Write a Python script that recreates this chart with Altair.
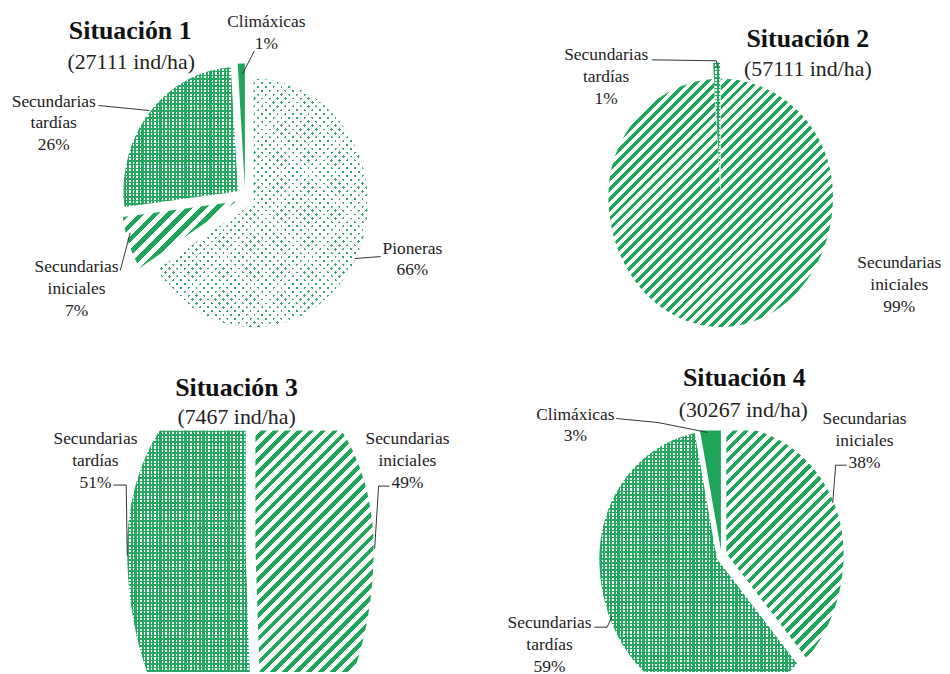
import math
import numpy as np
import pandas as pd
import altair as alt

# ---------------- data ----------------
categorias = ["Pioneras", "Secundarias iniciales", "Secundarias tardías", "Climáxicas"]
situaciones = ["Situación 1", "Situación 2", "Situación 3", "Situación 4"]
densidades = ["(27111 ind/ha)", "(57111 ind/ha)", "(7467 ind/ha)", "(30267 ind/ha)"]
pct_sit1 = [66, 7, 26, 1]
pct_sit2 = [0, 99, 1, 0]
pct_sit3 = [0, 49, 51, 0]
pct_sit4 = [0, 38, 59, 3]
porcentajes = [pct_sit1, pct_sit2, pct_sit3, pct_sit4]

# ---------------- layout (page pixels) ----------------
LAYOUT = [
    dict(panel=(8, 8, 480, 431), center=(246.7, 197.0), rx=115, ryt=125, ryb=125, explode=0.083, stripe=14,
         title=(131, 29), sub=(132, 60),
         labels={"Pioneras": (415, 248), "Secundarias iniciales": (77, 267),
                 "Secundarias tardías": (54, 100), "Climáxicas": (268, 20)},
         leaders={"Pioneras": [(383, 256), (357, 258)],
                  "Secundarias iniciales": [(121, 270), (131, 232)],
                  "Secundarias tardías": [(99, 104), (150, 109)],
                  "Climáxicas": [(256, 49), (244, 72)]}),
    dict(panel=(480, 8, 942, 431), center=(725.0, 187.0), rx=113, ryt=118, ryb=131, explode=0.068, stripe=10,
         title=(813, 37), sub=(813, 67),
         labels={"Secundarias iniciales": (905, 263), "Secundarias tardías": (610, 53)},
         leaders={"Secundarias tardías": [(656, 58), (721, 59), (722, 66)]}),
    dict(panel=(8, 431, 480, 674), center=(252.0, 550.0), rx=119, ryt=173, ryb=223, explode=0.042, stripe=12,
         title=(238, 388), sub=(238, 418),
         labels={"Secundarias iniciales": (410, 440), "Secundarias tardías": (96, 440)},
         leaders={"Secundarias iniciales": [(392, 487), (381, 487), (377, 550)],
                  "Secundarias tardías": [(114, 486), (127, 486), (128, 557)]}),
    dict(panel=(480, 431, 942, 674), center=(726.0, 557.0), rx=118, ryt=128, ryb=145, explode=0.045, stripe=11,
         title=(749, 378), sub=(748, 410),
         labels={"Secundarias iniciales": (870, 420), "Secundarias tardías": (553, 625),
                 "Climáxicas": (579, 415)},
         leaders={"Secundarias iniciales": [(852, 466), (841, 466), (838, 504)],
                  "Secundarias tardías": [(598, 629), (611, 629), (616, 618)],
                  "Climáxicas": [(620, 419), (662, 423), (712, 433)]}),
]

GREEN = "#1fa65a"
GREEN_X = "#26a862"
DOT = "#35a56c"
WHITE = "#ffffff"
CLEAR = "rgba(255,255,255,0)"
SERIF = "Liberation Serif, Times New Roman, serif"
LINE_H = 22


# ---------------- geometry helpers ----------------
def sector_polygon(a0, a1, e, kb):
    m = 0.5 * (a0 + a1)
    ax, ay = e * math.sin(m), e * math.cos(m)
    n = max(2, int(math.ceil((a1 - a0) / math.radians(2))))
    t = np.linspace(a0, a1, n + 1)
    xs = np.concatenate([[ax], ax + np.sin(t)])
    ys = np.concatenate([[ay], ay + np.cos(t)])
    ys = np.where(ys < 0, ys * kb, ys)
    return xs, ys


def vertical_extents(xs, ys):
    x1, y1 = xs, ys
    x2, y2 = np.roll(xs, -1), np.roll(ys, -1)
    eps = 1e-6
    q = np.unique(np.concatenate([xs - eps, xs + eps]))
    Q = q[:, None]
    inside = ((x1[None, :] <= Q) & (Q < x2[None, :])) | ((x2[None, :] <= Q) & (Q < x1[None, :]))
    dx = np.where(x2 - x1 == 0, 1.0, x2 - x1)
    yy = y1[None, :] + (Q - x1[None, :]) * ((y2 - y1) / dx)[None, :]
    lo = np.where(inside, yy, np.inf).min(axis=1)
    hi = np.where(inside, yy, -np.inf).max(axis=1)
    ok = np.isfinite(lo) & np.isfinite(hi)
    return q[ok], lo[ok], hi[ok]


def stripes(kind, w, h, period, frac, on, off):
    if kind in ("diag", "anti"):
        k = (w + h) / (w * w + h * h)
        if kind == "diag":
            x1, y1, x2, y2 = 0.0, 0.0, k * w, k * h
        else:
            x1, y1, x2, y2 = 0.0, 1.0, k * w, 1.0 - k * h
        length = (w + h) / math.sqrt(2)
    elif kind == "v":
        x1, y1, x2, y2 = 0.0, 0.0, 1.0, 0.0
        length = w
    else:
        x1, y1, x2, y2 = 0.0, 0.0, 0.0, 1.0
        length = h
    n = max(length / period, 1.0)
    stops = []
    i = 0
    while i / n < 1:
        a = i / n
        b = min((i + frac) / n, 1.0)
        c = min((i + 1) / n, 1.0)
        stops += [(a, on), (b, on), (b, off), (c, off)]
        i += 1
    return alt.LinearGradient(
        gradient="linear",
        stops=[alt.GradientStop(offset=round(o, 5), color=col) for o, col in stops],
        x1=round(x1, 5), y1=round(y1, 5), x2=round(x2, 5), y2=round(y2, 5),
    )


def fills_for(cat, w, h, stripe):
    if cat == "Pioneras":
        return [stripes("diag", w, h, 5.5, 0.34, DOT, WHITE),
                stripes("anti", w, h, 5.5, 0.34, CLEAR, WHITE)]
    if cat == "Secundarias iniciales":
        return [stripes("diag", w, h, stripe / math.sqrt(2), 0.48, GREEN, WHITE)]
    if cat == "Secundarias tardías":
        return [stripes("v", w, h, 3.6, 0.6, GREEN_X, WHITE),
                stripes("h", w, h, 3.6, 0.4, GREEN_X, CLEAR)]
    return [GREEN]


# ---------------- build outline table ----------------
rows = []
slice_info = []  # (pie, sid, cat, bbox w, bbox h)
for p, (vals, L) in enumerate(zip(porcentajes, LAYOUT)):
    total = float(sum(vals))
    kb = L["ryb"] / L["ryt"]
    start = 0.0
    for sid, (cat, val) in enumerate(zip(categorias, vals)):
        if val <= 0:
            continue
        a0 = start / total * 2 * math.pi
        a1 = (start + val) / total * 2 * math.pi
        start += val
        xs, ys = sector_polygon(a0, a1, L["explode"], kb)
        q, lo, hi = vertical_extents(xs, ys)
        for u, l, hgh in zip(q, lo, hi):
            rows.append(dict(pie=p, sid=sid, u=float(u), lo=float(l), hi=float(hgh)))
        w = (xs.max() - xs.min()) * L["rx"]
        h = (ys.max() - ys.min()) * L["ryt"]
        slice_info.append((p, sid, cat, w, h))
outline = pd.DataFrame(rows).sort_values(["pie", "sid", "u"])


def to_unit(L, px, py):
    cx, cy = L["center"]
    return (px - cx) / L["rx"], (cy - py) / L["ryt"]


text_rows, leader_rows = [], []
for p, (vals, L) in enumerate(zip(porcentajes, LAYOUT)):
    u, v = to_unit(L, *L["title"])
    text_rows.append(dict(pie=p, kind="title", text=situaciones[p], u=u, v=v))
    u, v = to_unit(L, *L["sub"])
    text_rows.append(dict(pie=p, kind="sub", text=densidades[p], u=u, v=v))
    for cat, val in zip(categorias, vals):
        if val <= 0:
            continue
        lines = cat.split(" ") + [f"{val}%"]
        x0, y0 = L["labels"][cat]
        for k, line in enumerate(lines):
            u, v = to_unit(L, x0, y0 + k * LINE_H)
            text_rows.append(dict(pie=p, kind="label", text=line, u=u, v=v))
        for k, (lx, ly) in enumerate(L["leaders"].get(cat, [])):
            u, v = to_unit(L, lx, ly)
            leader_rows.append(dict(pie=p, lid=cat, k=k, u=u, v=v))
texts = pd.DataFrame(text_rows)
leaders = pd.DataFrame(leader_rows)


# ---------------- panels ----------------
def panel(p):
    L = LAYOUT[p]
    X0, Y0, X1, Y1 = L["panel"]
    cx, cy = L["center"]
    xsc = alt.Scale(domain=[(X0 - cx) / L["rx"], (X1 - cx) / L["rx"]], nice=False, zero=False)
    ysc = alt.Scale(domain=[(cy - Y1) / L["ryt"], (cy - Y0) / L["ryt"]], nice=False, zero=False)
    X = alt.X("u:Q", scale=xsc, axis=None)
    layers = []
    for (pp, sid, cat, w, h) in slice_info:
        if pp != p:
            continue
        for f in fills_for(cat, w, h, L["stripe"]):
            layers.append(
                alt.Chart(outline)
                .transform_filter(f"datum.pie == {p} && datum.sid == {sid}")
                .mark_area(fill=f, clip=True, interpolate="linear")
                .encode(x=X, y=alt.Y("lo:Q", scale=ysc, axis=None), y2="hi:Q")
            )
    base_t = alt.Chart(texts).encode(x=X, y=alt.Y("v:Q", scale=ysc, axis=None), text="text:N")
    layers.append(base_t.transform_filter(f"datum.pie == {p} && datum.kind == 'title'").mark_text(
        font=SERIF, fontSize=26, fontWeight="bold", color="#111111", align="center", baseline="middle"))
    layers.append(base_t.transform_filter(f"datum.pie == {p} && datum.kind == 'sub'").mark_text(
        font=SERIF, fontSize=22, color="#222222", align="center", baseline="middle"))
    layers.append(base_t.transform_filter(f"datum.pie == {p} && datum.kind == 'label'").mark_text(
        font=SERIF, fontSize=17.5, color="#222222", align="center", baseline="middle"))
    layers.append(
        alt.Chart(leaders)
        .transform_filter(f"datum.pie == {p}")
        .mark_line(color="#333333", strokeWidth=1)
        .encode(x=X, y=alt.Y("v:Q", scale=ysc, axis=None), detail="lid:N", order="k:Q")
    )
    return alt.layer(*layers).properties(width=X1 - X0, height=Y1 - Y0)


chart = (
    alt.concat(panel(0), panel(1), panel(2), panel(3), columns=2, spacing=0, bounds="flush")
    .resolve_scale(x="independent", y="independent")
    .properties(padding=0, background="#ffffff")
    .configure_view(strokeWidth=0)
)

chart.save("out.html", embed_options={"renderer": "svg", "actions": False})
